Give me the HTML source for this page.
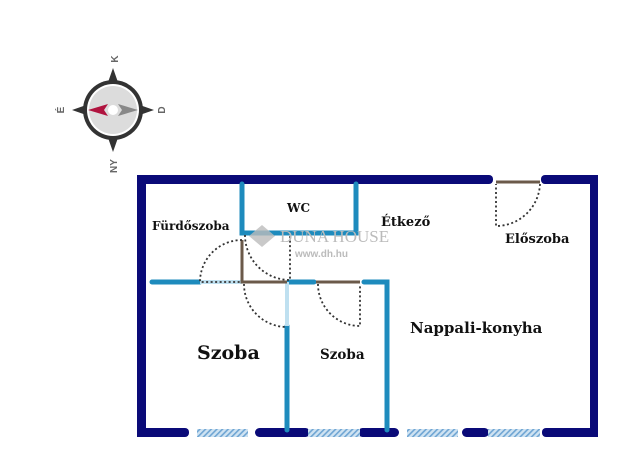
<!DOCTYPE html>
<html><head><meta charset="utf-8"><style>
html,body{margin:0;padding:0;background:#fff;}
svg{display:block;}
.lbl{font-family:"DejaVu Serif","Liberation Serif",serif;font-weight:bold;fill:#111;}
</style></head><body>
<svg width="640" height="476" viewBox="0 0 640 476" xmlns="http://www.w3.org/2000/svg">
<defs>
<pattern id="h" width="4" height="4" patternUnits="userSpaceOnUse" patternTransform="rotate(45)">
<rect width="4" height="4" fill="#cfe3f2"/><rect width="1.6" height="4" fill="#6fa5d3"/>
</pattern>
</defs>
<!-- compass -->
<g>
<polygon points="113,68 120,88 106,88" fill="#333"/>
<polygon points="113,152 120,132 106,132" fill="#333"/>
<polygon points="72,110 92,103 92,117" fill="#333"/>
<polygon points="154,110 134,103 134,117" fill="#333"/>
<circle cx="113" cy="110" r="30" fill="#333"/>
<circle cx="113" cy="110" r="26" fill="#fff"/>
<circle cx="113" cy="110" r="24" fill="#dcdcdc"/>
<polygon points="88,110 108,104 104,110 108,116" fill="#b0143f"/>
<polygon points="138,110 118,104 122,110 118,116" fill="#888"/>
<circle cx="113" cy="110" r="5" fill="#fff"/>
<text x="0" y="0" transform="translate(118,59) rotate(-90)" font-family="Liberation Sans,sans-serif" font-weight="bold" font-size="10" fill="#666" text-anchor="middle">K</text>
<text x="0" y="0" transform="translate(64,110) rotate(-90)" font-family="Liberation Sans,sans-serif" font-weight="bold" font-size="10" fill="#666" text-anchor="middle">É</text>
<text x="0" y="0" transform="translate(165,110) rotate(-90)" font-family="Liberation Sans,sans-serif" font-weight="bold" font-size="10" fill="#666" text-anchor="middle">D</text>
<text x="0" y="0" transform="translate(117,166) rotate(-90)" font-family="Liberation Sans,sans-serif" font-weight="bold" font-size="10" fill="#666" text-anchor="middle">NY</text>
</g>
<!-- outer walls -->
<g fill="#0a0a78">
<rect x="137" y="175" width="9" height="262"/>
<rect x="137" y="175" width="356" height="9" rx="4"/>
<rect x="541" y="175" width="57" height="9" rx="4"/>
<rect x="590" y="175" width="8" height="262"/>
<rect x="137" y="428" width="52" height="9" rx="4"/>
<rect x="255" y="428" width="55" height="9" rx="4.5"/>
<rect x="358" y="428" width="41" height="9" rx="4.5"/>
<rect x="462" y="428" width="27" height="9" rx="4.5"/>
<rect x="542" y="428" width="56" height="9" rx="4"/>
</g>
<g fill="url(#h)">
<rect x="197" y="429" width="51" height="8"/>
<rect x="308" y="429" width="52" height="8"/>
<rect x="407" y="429" width="51" height="8"/>
<rect x="488" y="429" width="52" height="8"/>
</g>
<!-- interior walls -->
<g stroke="#1e8bbd" stroke-width="5" fill="none" stroke-linecap="round">
<path d="M242,184 V233 H356 V184"/>
<path d="M152,282 H200"/>
<path d="M289,282 H314"/>
<path d="M364,282 H387 V430"/>
<path d="M287,326 V430"/>
</g>
<rect x="200" y="280" width="42" height="4" fill="#bfe0f0"/>
<rect x="285" y="282" width="4" height="44" fill="#bfe0f0"/>
<!-- door leaves -->
<g stroke="#6b5a4a" stroke-width="3" fill="none">
<path d="M242,240 V282 H287"/>
<path d="M316,282 H360"/>
<path d="M496,182 H540"/>
</g>
<!-- dotted arcs -->
<g stroke="#333" stroke-width="1.8" stroke-dasharray="2,2.5" fill="none">
<path d="M242,240 A42,42 0 0 0 200,282 H242"/>
<path d="M245,235 A45,45 0 0 0 290,280 V235"/>
<path d="M244,284 A43,43 0 0 0 287,327"/>
<path d="M318,284 A42,42 0 0 0 360,326 V284"/>
<path d="M540,184 A44,44 0 0 1 496,226 V184"/>
</g>
<!-- watermark -->
<polygon points="262,225 275,236 262,247 249,236" fill="#bbb" opacity="0.8"/>
<text x="280" y="242" font-family="Liberation Serif,serif" font-size="17" fill="#bbb">DUNA HOUSE</text>
<text x="295" y="257" font-family="Liberation Sans,sans-serif" font-weight="bold" font-size="10" fill="#bbb">www.dh.hu</text>
<!-- labels -->
<text class="lbl" x="287" y="212" font-size="12">WC</text>
<text class="lbl" x="152" y="230" font-size="12">Fürdőszoba</text>
<text class="lbl" x="381" y="226" font-size="13">Étkező</text>
<text class="lbl" x="505" y="243" font-size="13">Előszoba</text>
<text class="lbl" x="410" y="333" font-size="15">Nappali-konyha</text>
<text class="lbl" x="197" y="359" font-size="19">Szoba</text>
<text class="lbl" x="320" y="359" font-size="13.5">Szoba</text>
</svg>
</body></html>
